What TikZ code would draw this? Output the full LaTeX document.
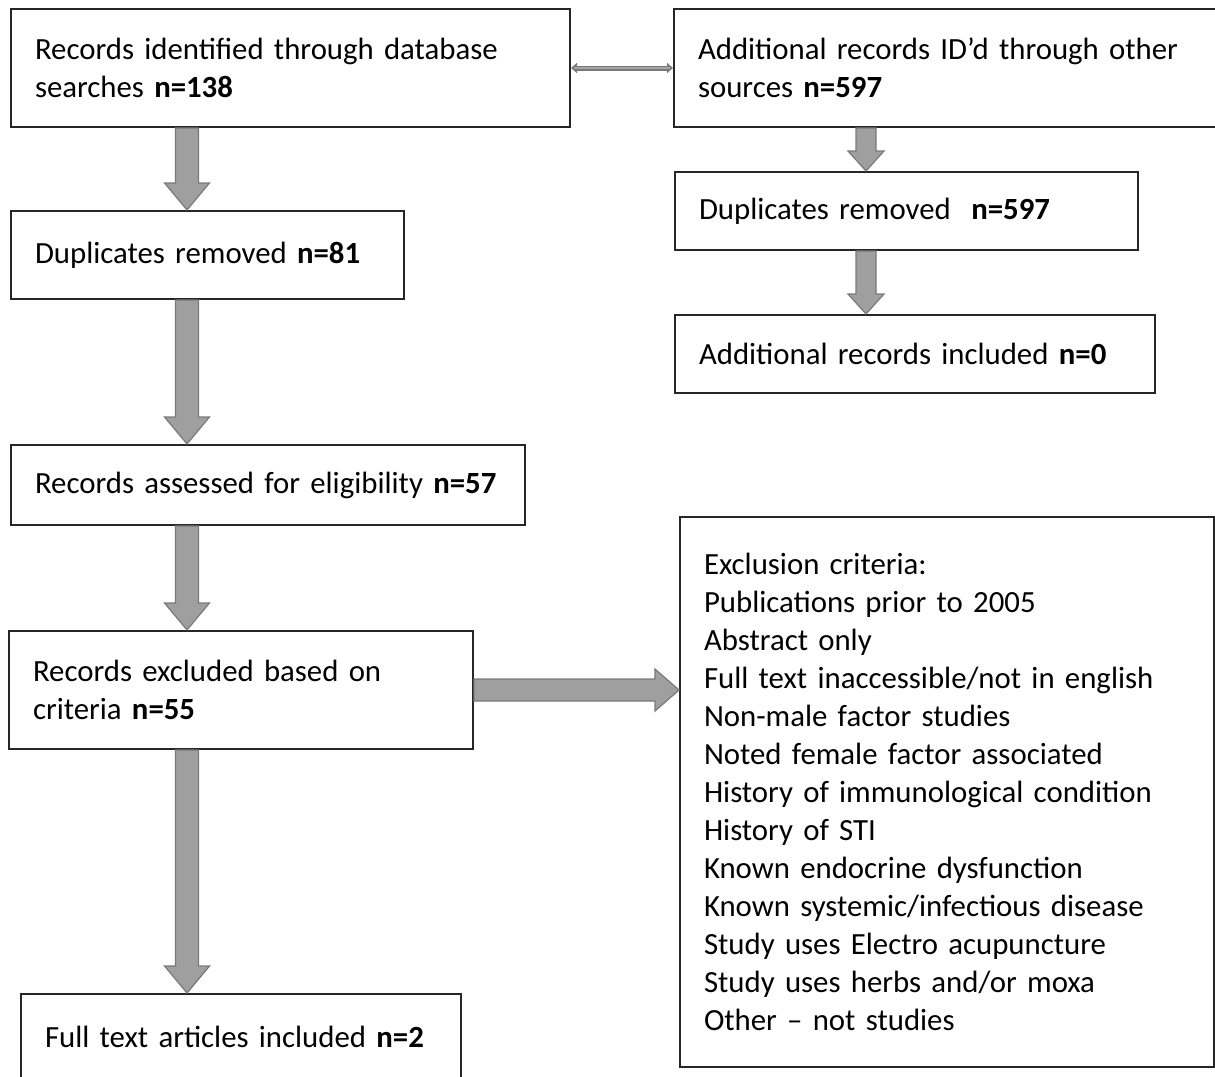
\documentclass[tikz,border=0pt]{standalone}
\usepackage{fontspec}
\setmainfont{Carlito}
\usetikzlibrary{arrows.meta, calc}

% fat block arrow pointing down: x, from node, to node, shaft half width, head half width, head length
\newcommand{\fatdown}[6]{%
  \filldraw[fatarrow] let \p1=(#2.south), \p2=(#3.north) in
    ({#1-#4},\y1) -- ({#1+#4},\y1) -- ({#1+#4},\y2+#6pt) -- ({#1+#5},\y2+#6pt)
    -- (#1,\y2) -- ({#1-#5},\y2+#6pt) -- ({#1-#4},\y2+#6pt) -- cycle;
}

\begin{document}
\begin{tikzpicture}[
    x=1pt, y=1pt,
    every node/.style={font=\fontsize{30.8}{38}\selectfont},
    box/.style={rectangle, draw=black!85, line width=2pt, anchor=north west, align=left, inner xsep=24pt, inner ysep=0pt},
    fatarrow/.style={fill=gray!75, draw=gray!95!black, line width=1.2pt, line join=miter},
    linkarrow/.style={{Triangle[length=6pt, width=10pt]}-{Triangle[length=6pt, width=10pt]}}
]

% canvas
\clip[use as bounding box] (0,0) rectangle (1215,-1076);

% ============ LEFT COLUMN ============
\node[box, minimum width=559pt, text width=511pt, minimum height=118pt] (rec) at (10,-8) {
    Records identified through database\\
    searches \textbf{n=138}
};

\node[box, minimum width=393pt, text width=345pt, minimum height=88pt] (dup) at (10,-210) {
    Duplicates removed \textbf{n=81}
};

\node[box, minimum width=514pt, text width=466pt, minimum height=80pt] (assess) at (10,-444) {
    Records assessed for eligibility \textbf{n=57}
};

\node[box, minimum width=464pt, text width=416pt, minimum height=118pt] (excl) at (8,-630) {
    Records excluded based on\\
    criteria \textbf{n=55}
};

\node[box, minimum width=440pt, text width=392pt, minimum height=86pt] (full) at (20,-993) {
    Full text articles included \textbf{n=2}
};

% ============ RIGHT COLUMN ============
\node[box, minimum width=580pt, text width=532pt, minimum height=118pt] (addrec) at (673,-8) {
    Additional records ID’d through other\\
    sources \textbf{n=597}
};

\node[box, minimum width=463pt, text width=415pt, minimum height=78pt] (dupadd) at (674,-171) {
    Duplicates removed~ \textbf{n=597}
};

\node[box, minimum width=480pt, text width=432pt, minimum height=78pt] (addinc) at (674,-314) {
    Additional records included \textbf{n=0}
};

% Exclusion list
\node[box, minimum width=534pt, text width=486pt, minimum height=550pt] (crit) at (679,-516) {
    Exclusion criteria:\\
    Publications prior to 2005\\
    Abstract only\\
    Full text inaccessible/not in english\\
    Non-male factor studies\\
    Noted female factor associated\\
    History of immunological condition\\
    History of STI\\
    Known endocrine dysfunction\\
    Known systemic/infectious disease\\
    Study uses Electro acupuncture\\
    Study uses herbs and/or moxa\\
    Other -- not studies
};

% ============ CONNECTIONS ============
% top link between sources
\draw[linkarrow, gray!95!black, line width=5pt] (rec.east) -- (addrec.west);
\draw[gray!70, line width=2.4pt, shorten <=3pt, shorten >=3pt] (rec.east) -- (addrec.west);

% left flow
\fatdown{187}{rec}{dup}{11.5}{22.5}{27}
\fatdown{187}{dup}{assess}{11.5}{22.5}{27}
\fatdown{187}{assess}{excl}{11.5}{22.5}{27}
\fatdown{187}{excl}{full}{11.5}{22.5}{27}

% right flow
\fatdown{866}{addrec}{dupadd}{10}{18}{20}
\fatdown{866}{dupadd}{addinc}{10}{18}{20}

% excluded records to criteria
\filldraw[fatarrow] let \p1=(excl.east), \p2=(crit.west) in
    (\x1,\y1+11) -- (\x2-24pt,\y1+11) -- (\x2-24pt,\y1+21) -- (\x2,\y1)
    -- (\x2-24pt,\y1-21) -- (\x2-24pt,\y1-11) -- (\x1,\y1-11) -- cycle;

\end{tikzpicture}
\end{document}
